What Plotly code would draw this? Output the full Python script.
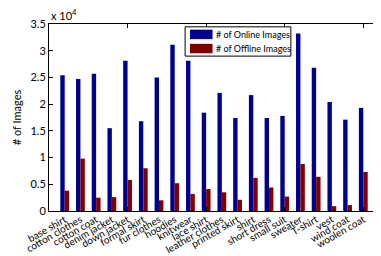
import plotly.graph_objects as go

categories = ["base shirt", "cotton clothes", "cotton coat", "denim jacket", "down jacket",
              "formal skirt", "fur clothes", "hoodies", "knitwear", "lace shirt",
              "leather clothes", "printed skirt", "shirt", "short dress", "small suit",
              "sweater", "T-shirt", "vest", "wind coat", "woolen coat"]
online = [25400, 24700, 25700, 15500, 28100, 16800, 25000, 31100, 28100, 18400,
          22100, 17400, 21700, 17400, 17800, 33200, 26800, 20400, 17100, 19300]
offline = [3800, 9800, 2500, 2600, 5800, 8000, 2000, 5200, 3200, 4100,
           3500, 2100, 6200, 4400, 2700, 8800, 6400, 900, 1100, 7300]
series_names = ["# of Online Images", "# of Offline Images"]
series_colors = ["#00008F", "#800000"]
y_ticks = [0, 5000, 10000, 15000, 20000, 25000, 30000, 35000]
y_tick_labels = ["0", "0.5", "1", "1.5", "2", "2.5", "3", "3.5"]

FONT = "Lato"
W, H = 381, 256
ML, MR, MT, MB = 35, 9, 16, 42
PW, PH = W - ML - MR, H - MT - MB


def px(x):  # pixel -> paper x
    return (x - ML) / PW


def py(y):  # pixel -> paper y
    return 1 - (y - MT) / PH


fig = go.Figure()
for vals, name, col in zip([online, offline], series_names, series_colors):
    fig.add_trace(go.Bar(x=categories, y=vals, name=name,
                         marker=dict(color=col, line=dict(width=0))))
# invisible trace to carry the numeric tick axis
fig.add_trace(go.Scatter(x=[0, 21], y=[0, 0], xaxis="x2", mode="lines",
                         line=dict(width=0), showlegend=False, hoverinfo="skip"))

# custom compact legend (box, swatches, labels)
shapes = [dict(type="rect", xref="paper", yref="paper",
               x0=px(174), x1=px(282), y0=py(19), y1=py(50),
               line=dict(color="black", width=1), fillcolor="white", layer="above")]
annotations = []
for i, (name, col) in enumerate(zip(series_names, series_colors)):
    top = 22 + i * 15
    shapes.append(dict(type="rect", xref="paper", yref="paper",
                       x0=px(179), x1=px(202), y0=py(top), y1=py(top + 10),
                       line=dict(width=0), fillcolor=col, layer="above"))
    annotations.append(dict(text=name, xref="paper", yref="paper",
                            x=px(203), y=py(top + 5), xanchor="left", yanchor="middle",
                            showarrow=False, font=dict(family=FONT, size=9)))
annotations.append(dict(text="x 10<sup>4</sup>", xref="paper", yref="paper", x=0.0, y=1.0,
                        xanchor="left", yanchor="bottom", showarrow=False,
                        font=dict(family=FONT, size=11)))

fig.update_layout(
    width=W, height=H,
    margin=dict(l=ML, r=MR, t=MT, b=MB),
    paper_bgcolor="white", plot_bgcolor="white",
    font=dict(family=FONT, size=10, color="black"),
    barmode="group", bargap=0.44, bargroupgap=0.0,
    showlegend=False,
    xaxis=dict(type="category", range=[-1, 20], showgrid=False, zeroline=False,
               ticks="", tickangle=-30, tickfont=dict(family=FONT, size=10),
               showline=False),
    xaxis2=dict(overlaying="x", range=[0, 21], tickvals=[5, 10, 15, 20],
                ticks="inside", ticklen=4, tickcolor="black", showticklabels=False,
                showline=True, linecolor="black", linewidth=1, mirror="ticks",
                showgrid=False, zeroline=False, anchor="y"),
    yaxis=dict(range=[0, 35000], tickvals=y_ticks, ticktext=y_tick_labels,
               ticks="inside", ticklen=4, tickcolor="black", showline=True,
               linecolor="black", linewidth=1, mirror="ticks", showgrid=False,
               zeroline=False, tickfont=dict(family=FONT, size=11),
               title=dict(text="# of Images", font=dict(family=FONT, size=11), standoff=6)),
    shapes=shapes,
    annotations=annotations,
)

fig.write_html("out.html")
